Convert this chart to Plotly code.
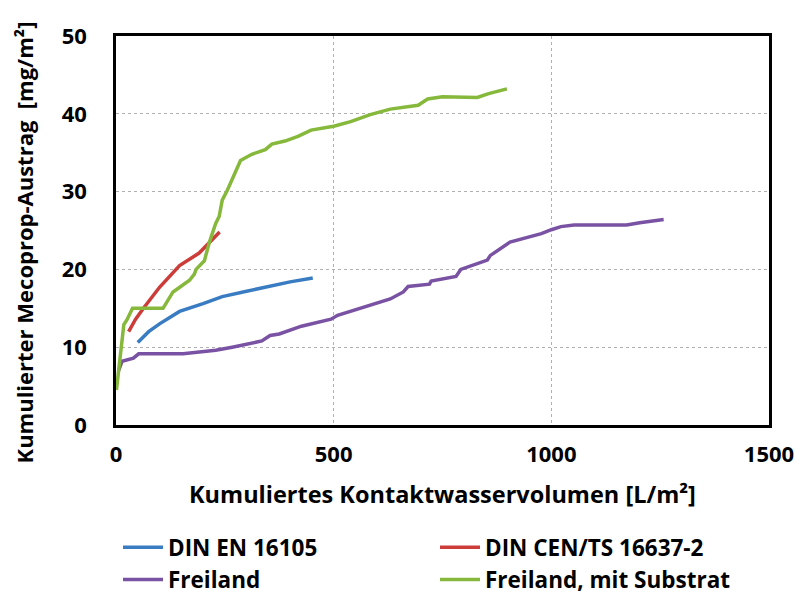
import plotly.graph_objects as go

# DIN EN 16105
din_en_x = [50, 75, 100, 146, 200, 244, 300, 342, 400, 452]
din_en_y = [10.6, 12.0, 13.0, 14.6, 15.6, 16.5, 17.2, 17.7, 18.4, 18.9]

# DIN CEN/TS 16637-2
din_cen_x = [29, 45, 63, 100, 146, 191, 238]
din_cen_y = [12.0, 13.6, 15.0, 17.7, 20.5, 22.1, 24.8]

# Freiland
frei_x = [6, 14, 40, 52, 154, 229, 267, 335, 354, 375, 426, 494, 509, 569, 630,
          660, 671, 720, 724, 781, 792, 853, 860, 905, 977, 1000, 1022, 1052, 1173, 1203, 1258]
frei_y = [7.0, 8.2, 8.6, 9.15, 9.15, 9.6, 10.0, 10.8, 11.5, 11.7, 12.7, 13.6, 14.1, 15.1, 16.2,
          17.1, 17.8, 18.1, 18.5, 19.1, 20.0, 21.2, 21.8, 23.5, 24.6, 25.1, 25.5, 25.7, 25.7, 26.0, 26.4]

# Freiland, mit Substrat
sub_x = [1, 6, 18, 25, 38, 108, 116, 121, 131, 169, 180, 184, 203, 214, 229, 237, 244, 256,
         271, 286, 312, 343, 358, 388, 418, 448, 500, 539, 584, 630, 694, 716, 750, 830, 856, 898]
sub_y = [4.5, 7.0, 12.9, 13.5, 15.0, 15.0, 15.8, 16.2, 17.1, 18.6, 19.4, 20.0, 21.1, 23.4, 25.9,
         26.8, 28.9, 30.2, 32.1, 34.0, 34.8, 35.4, 36.1, 36.5, 37.1, 37.9, 38.4, 39.0, 39.9, 40.6,
         41.1, 41.9, 42.2, 42.1, 42.6, 43.2]

x_ticks = [0, 500, 1000, 1500]
y_ticks = [0, 10, 20, 30, 40, 50]

x_title = "Kumuliertes Kontaktwasservolumen [L/m²]"
y_title = "Kumulierter Mecoprop-Austrag  [mg/m²]"

FONT = "Open Sans"
# page body has an 8px margin, so the figure is sized/placed to compensate
W, H = 798, 587
ML, MR, MT, MB = 108, 29, 23, 170
PW, PH = W - ML - MR, H - MT - MB

fig = go.Figure()
series = [
    ("DIN EN 16105", din_en_x, din_en_y, "#3a7cc2"),
    ("DIN CEN/TS 16637-2", din_cen_x, din_cen_y, "#cc3d3a"),
    ("Freiland", frei_x, frei_y, "#7a52a3"),
    ("Freiland, mit Substrat", sub_x, sub_y, "#86b83c"),
]
for name, xs, ys, c in series:
    fig.add_trace(go.Scatter(x=xs, y=ys, mode="lines", name=name,
                             line=dict(color=c, width=3.5)))

fig.update_layout(
    width=W, height=H,
    margin=dict(l=ML, r=MR, t=MT, b=MB),
    paper_bgcolor="white", plot_bgcolor="white",
    font=dict(family=FONT, size=18, color="black"),
    showlegend=True,
    legend=dict(orientation="h", xref="container", x=110 / W, xanchor="left",
                yref="container", y=1 - 518 / H, yanchor="top",
                entrywidth=262, entrywidthmode="pixels",
                font=dict(family=FONT, size=22.5, color="black", weight="bold"),
                traceorder="normal", itemwidth=40),
    annotations=[
        dict(text=x_title, xref="paper", yref="paper", x=0.5, y=-70 / PH,
             xanchor="center", yanchor="middle", showarrow=False,
             font=dict(family=FONT, size=23.5, weight="bold", color="black")),
        dict(text=y_title, xref="paper", yref="paper", x=-93 / PW,
             y=0.5 - 12 / PH, textangle=-90,
             xanchor="center", yanchor="middle", showarrow=False,
             font=dict(family=FONT, size=22, weight="bold", color="black")),
    ],
)
fig.update_xaxes(range=[0, 1500], tickvals=x_ticks, showgrid=True,
                 gridcolor="#b0b0b0", griddash="dot", gridwidth=1,
                 showline=True, linecolor="black", linewidth=2.5, mirror=True,
                 ticks="", zeroline=False, ticklabelstandoff=8,
                 tickfont=dict(family=FONT, size=22, weight="bold"))
fig.update_yaxes(range=[0, 50], tickvals=y_ticks, showgrid=True,
                 gridcolor="#b0b0b0", griddash="dot", gridwidth=1,
                 showline=True, linecolor="black", linewidth=2.5, mirror=True,
                 ticks="", zeroline=False, ticklabelstandoff=22,
                 tickfont=dict(family=FONT, size=22, weight="bold"))

fig.write_html("out.html")
